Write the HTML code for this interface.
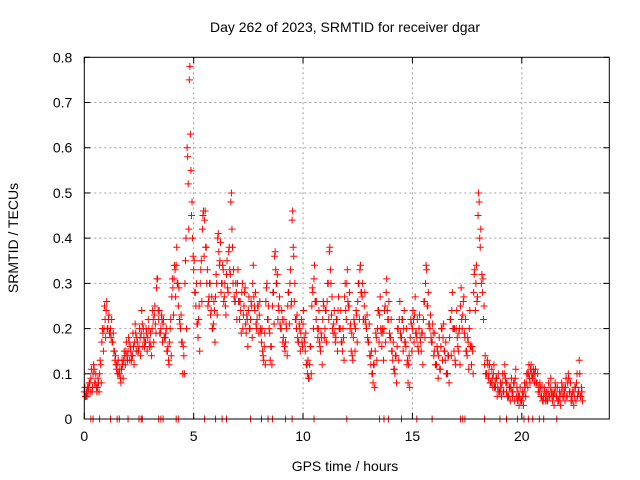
<!DOCTYPE html>
<html><head><meta charset="utf-8"><style>
body{margin:0;background:#fff}
svg{display:block;font-family:"Liberation Sans",sans-serif}
</style></head><body>
<svg id="chart" width="640" height="480" viewBox="0 0 640 480">
<rect width="640" height="480" fill="#fff"/>
<g id="grid"></g><g id="marks"></g><g id="axes"></g>
<text x="345" y="32" text-anchor="middle" font-size="14" fill="#000">Day 262 of 2023, SRMTID for receiver dgar</text>
<text x="345" y="471" text-anchor="middle" font-size="14" fill="#000">GPS time / hours</text>
<text transform="translate(18,238) rotate(-90)" text-anchor="middle" font-size="14" fill="#000">SRMTID / TECUs</text>
</svg>
<script>
const xTicks=[0,5,10,15,20];
const yTicks=[0,0.1,0.2,0.3,0.4,0.5,0.6,0.7,0.8];
const yTickLabels=["0","0.1","0.2","0.3","0.4","0.5","0.6","0.7","0.8"];
const seriesAStart=0.0, seriesBStart=0.05, seriesCStart=0.025, seriesDStart=0.075, step=0.1;
const seriesA=[0.06,0.06,0.07,0.09,0.1,0.08,0.07,0.1,0.17,0.2,
0.24,0.22,0.2,0.17,0.13,0.12,0.1,0.11,0.13,0.15,
0.15,0.16,0.14,0.17,0.18,0.16,0.19,0.2,0.17,0.18,
0.17,0.2,0.23,0.29,0.22,0.2,0.21,0.18,0.15,0.17,
0.27,0.31,0.34,0.25,0.2,0.1,0.3,0.6,0.75,0.45,
0.33,0.25,0.18,0.3,0.42,0.44,0.3,0.27,0.24,0.21,
0.27,0.4,0.35,0.3,0.27,0.32,0.37,0.48,0.3,0.26,
0.3,0.22,0.28,0.25,0.19,0.24,0.22,0.3,0.24,0.22,
0.23,0.17,0.13,0.26,0.22,0.13,0.25,0.36,0.3,0.24,
0.2,0.18,0.17,0.25,0.3,0.44,0.26,0.2,0.17,0.19,
0.21,0.15,0.1,0.12,0.25,0.31,0.22,0.2,0.15,0.22,
0.2,0.26,0.37,0.23,0.21,0.18,0.24,0.2,0.15,0.27,
0.3,0.25,0.15,0.18,0.2,0.26,0.33,0.27,0.25,0.2,
0.17,0.12,0.08,0.15,0.2,0.23,0.16,0.2,0.28,0.22,
0.18,0.13,0.1,0.16,0.22,0.18,0.2,0.16,0.08,0.18,
0.2,0.23,0.18,0.2,0.15,0.22,0.3,0.25,0.2,0.17,
0.15,0.12,0.14,0.16,0.18,0.13,0.1,0.18,0.24,0.15,
0.2,0.15,0.25,0.23,0.18,0.14,0.2,0.12,0.28,0.3,
0.45,0.38,0.28,0.12,0.1,0.1,0.08,0.1,0.07,0.07,
0.06,0.08,0.1,0.06,0.05,0.07,0.06,0.09,0.04,0.05,
0.04,0.06,0.08,0.1,0.11,0.09,0.1,0.08,0.06,0.05,
0.05,0.05,0.06,0.07,0.04,0.06,0.05,0.04,0.06,0.05,
0.07,0.08,0.06,0.04,0.05,0.08,0.06,0.05];
const seriesB=[0.05,0.07,0.08,0.06,0.11,0.07,0.08,0.12,0.19,0.22,
0.2,0.19,0.22,0.15,0.12,0.13,0.09,0.12,0.14,0.14,
0.17,0.13,0.16,0.19,0.15,0.18,0.21,0.16,0.19,0.2,
0.16,0.22,0.21,0.31,0.19,0.22,0.18,0.2,0.13,0.22,
0.29,0.33,0.3,0.22,0.17,0.14,0.4,0.52,0.63,0.4,
0.28,0.21,0.25,0.35,0.46,0.38,0.25,0.3,0.2,0.24,
0.3,0.37,0.28,0.33,0.25,0.29,0.33,0.42,0.27,0.28,
0.26,0.24,0.2,0.29,0.22,0.2,0.25,0.27,0.21,0.25,
0.2,0.15,0.19,0.3,0.2,0.16,0.28,0.33,0.22,0.21,
0.22,0.16,0.2,0.28,0.25,0.38,0.22,0.18,0.2,0.17,
0.18,0.12,0.09,0.16,0.28,0.26,0.2,0.17,0.18,0.25,
0.24,0.3,0.33,0.2,0.19,0.22,0.2,0.17,0.18,0.24,
0.26,0.2,0.14,0.21,0.23,0.3,0.28,0.22,0.22,0.18,
0.14,0.1,0.12,0.18,0.24,0.2,0.19,0.25,0.24,0.19,
0.15,0.11,0.14,0.2,0.19,0.22,0.17,0.12,0.14,0.21,
0.22,0.19,0.16,0.18,0.19,0.26,0.33,0.21,0.18,0.19,
0.12,0.15,0.11,0.2,0.15,0.1,0.14,0.22,0.2,0.13,
0.18,0.2,0.22,0.27,0.15,0.17,0.16,0.15,0.33,0.26,
0.48,0.3,0.22,0.1,0.12,0.08,0.09,0.07,0.09,0.06,
0.07,0.06,0.09,0.05,0.07,0.06,0.08,0.05,0.05,0.04,
0.05,0.07,0.1,0.09,0.1,0.1,0.08,0.06,0.07,0.04,
0.06,0.04,0.05,0.06,0.05,0.07,0.04,0.05,0.07,0.06,
0.05,0.09,0.04,0.06,0.07,0.05,0.1,0.06];
const seriesC=[0.07,0.05,0.08,0.11,0.12,0.1,0.09,0.13,0.2,0.25,
0.26,0.23,0.18,0.19,0.14,0.1,0.11,0.13,0.15,0.17,
0.18,0.15,0.19,0.21,0.17,0.2,0.24,0.18,0.2,0.22,
0.19,0.24,0.25,0.31,0.24,0.23,0.22,0.19,0.16,0.2,
0.31,0.34,0.38,0.29,0.23,0.16,0.35,0.58,0.78,0.48,
0.35,0.3,0.22,0.33,0.45,0.46,0.33,0.3,0.27,0.26,
0.32,0.41,0.39,0.34,0.3,0.35,0.38,0.5,0.33,0.3,
0.33,0.26,0.3,0.28,0.23,0.27,0.26,0.34,0.28,0.25,
0.26,0.2,0.16,0.29,0.25,0.16,0.28,0.37,0.32,0.27,
0.24,0.22,0.21,0.28,0.33,0.46,0.3,0.23,0.21,0.22,
0.24,0.19,0.13,0.16,0.29,0.34,0.26,0.24,0.19,0.26,
0.24,0.3,0.38,0.27,0.24,0.22,0.27,0.24,0.2,0.3,
0.33,0.28,0.19,0.22,0.24,0.3,0.34,0.3,0.28,0.23,
0.21,0.15,0.12,0.19,0.24,0.27,0.2,0.24,0.31,0.26,
0.22,0.17,0.14,0.2,0.26,0.22,0.24,0.2,0.12,0.22,
0.24,0.27,0.22,0.23,0.19,0.26,0.34,0.28,0.23,0.21,
0.19,0.16,0.18,0.2,0.21,0.17,0.14,0.22,0.28,0.2,
0.24,0.19,0.29,0.26,0.22,0.18,0.24,0.16,0.32,0.34,
0.5,0.42,0.31,0.14,0.13,0.12,0.11,0.12,0.09,0.1,
0.08,0.1,0.12,0.08,0.07,0.09,0.08,0.11,0.06,0.07,
0.06,0.08,0.1,0.12,0.12,0.11,0.11,0.1,0.08,0.07,
0.07,0.06,0.08,0.09,0.06,0.08,0.07,0.06,0.08,0.07,
0.09,0.1,0.08,0.06,0.07,0.1,0.13,0.07];
const seriesD=[0.05,0.06,0.06,0.07,0.08,0.06,0.06,0.08,0.15,0.18,
0.2,0.19,0.17,0.15,0.11,0.1,0.08,0.09,0.12,0.13,
0.13,0.14,0.12,0.15,0.15,0.14,0.16,0.17,0.15,0.16,
0.14,0.17,0.19,0.24,0.19,0.17,0.18,0.15,0.12,0.14,
0.23,0.27,0.3,0.21,0.17,0.1,0.2,0.42,0.55,0.36,
0.28,0.21,0.15,0.26,0.36,0.38,0.26,0.23,0.2,0.17,
0.23,0.34,0.3,0.26,0.23,0.28,0.32,0.38,0.26,0.22,
0.26,0.19,0.23,0.21,0.16,0.2,0.18,0.25,0.2,0.19,
0.19,0.14,0.12,0.22,0.19,0.12,0.21,0.3,0.25,0.2,
0.17,0.15,0.14,0.21,0.26,0.36,0.22,0.17,0.15,0.16,
0.17,0.12,0.09,0.1,0.2,0.26,0.18,0.16,0.12,0.18,
0.17,0.22,0.3,0.19,0.17,0.15,0.2,0.17,0.13,0.22,
0.25,0.21,0.13,0.15,0.17,0.22,0.28,0.22,0.21,0.17,
0.14,0.1,0.07,0.13,0.17,0.19,0.13,0.17,0.22,0.18,
0.15,0.11,0.08,0.13,0.18,0.15,0.17,0.13,0.07,0.15,
0.17,0.19,0.15,0.17,0.12,0.18,0.25,0.21,0.17,0.14,
0.12,0.09,0.11,0.13,0.15,0.1,0.08,0.14,0.2,0.12,
0.16,0.12,0.2,0.19,0.15,0.11,0.16,0.1,0.24,0.27,
0.4,0.32,0.25,0.1,0.09,0.08,0.07,0.08,0.05,0.06,
0.05,0.06,0.08,0.05,0.04,0.05,0.04,0.07,0.03,0.04,
0.03,0.05,0.07,0.08,0.09,0.08,0.08,0.07,0.05,0.04,
0.04,0.04,0.05,0.05,0.03,0.05,0.04,0.03,0.05,0.04,
0.05,0.06,0.05,0.03,0.04,0.06,0.05,0.04];
const zeroTimes=[0.3,0.4,0.7,1.2,1.5,1.6,2.0,2.5,2.6,2.65,3.4,3.5,3.6,4.2,4.3,5.5,6.0,6.3,6.5,7.6,8.1,8.4,8.6,9.2,9.5,10.5,12.0,13.5,13.7,13.9,14.5,15.2,15.9,17.2,17.3,17.4,18.3,19.0,19.3,19.8,20.1,20.3,20.5,20.8,21.0,21.6];

const L=84.3,R=609.3,T=57.3,B=419,XMAX=24,YMAX=0.8;
const xs=t=>L+(R-L)*t/XMAX, ys=v=>B-(B-T)*v/YMAX;
const NS="http://www.w3.org/2000/svg";
function mk(tag,attrs,parent){const e=document.createElementNS(NS,tag);for(const k in attrs)e.setAttribute(k,attrs[k]);parent.appendChild(e);return e;}
const grid=document.getElementById('grid'),axes=document.getElementById('axes'),marks=document.getElementById('marks');
xTicks.forEach((t,i)=>{
  const x=xs(t);
  if(t>0){const g=mk('line',{x1:x,x2:x,y1:T,y2:B,stroke:'#a0a0a0','stroke-dasharray':'2,3','stroke-width':1},grid);
  
  }
  mk('line',{x1:x,x2:x,y1:B,y2:B-6,stroke:'#000'},axes);
  mk('line',{x1:x,x2:x,y1:T,y2:T+6,stroke:'#000'},axes);
  const lb=mk('text',{x:x,y:B+22,'text-anchor':'middle','font-size':14,fill:'#000'},axes);
  lb.textContent=String(t);
  
  
});
yTicks.forEach((v,i)=>{
  const y=ys(v);
  if(v>0&&v<YMAX){const g=mk('line',{x1:L,x2:R,y1:y,y2:y,stroke:'#a0a0a0','stroke-dasharray':'2,3','stroke-width':1},grid);
  
  }
  mk('line',{x1:L,x2:L+6,y1:y,y2:y,stroke:'#000'},axes);
  mk('line',{x1:R,x2:R-6,y1:y,y2:y,stroke:'#000'},axes);
  const lb=mk('text',{x:L-12,y:y+5,'text-anchor':'end','font-size':14,fill:'#000'},axes);
  lb.textContent=yTickLabels[i];
  
  
});
const box=mk('rect',{x:L,y:T,width:R-L,height:B-T,fill:'none',stroke:'#000','stroke-width':1},axes);


function plus(t,v){
  const x=xs(t),y=ys(v);
  const p=mk('path',{d:`M${x-3.5},${y}h7M${x},${y-3.5}v7`,stroke:'#f00','stroke-width':1,fill:'none'},marks);
  
  
}
seriesA.forEach((v,i)=>plus(seriesAStart+i*step,v));
seriesB.forEach((v,i)=>plus(seriesBStart+i*step,v));
seriesC.forEach((v,i)=>plus(seriesCStart+i*step,v));
seriesD.forEach((v,i)=>plus(seriesDStart+i*step,v));
zeroTimes.forEach(t=>plus(t,0));
</script>
</body></html>
